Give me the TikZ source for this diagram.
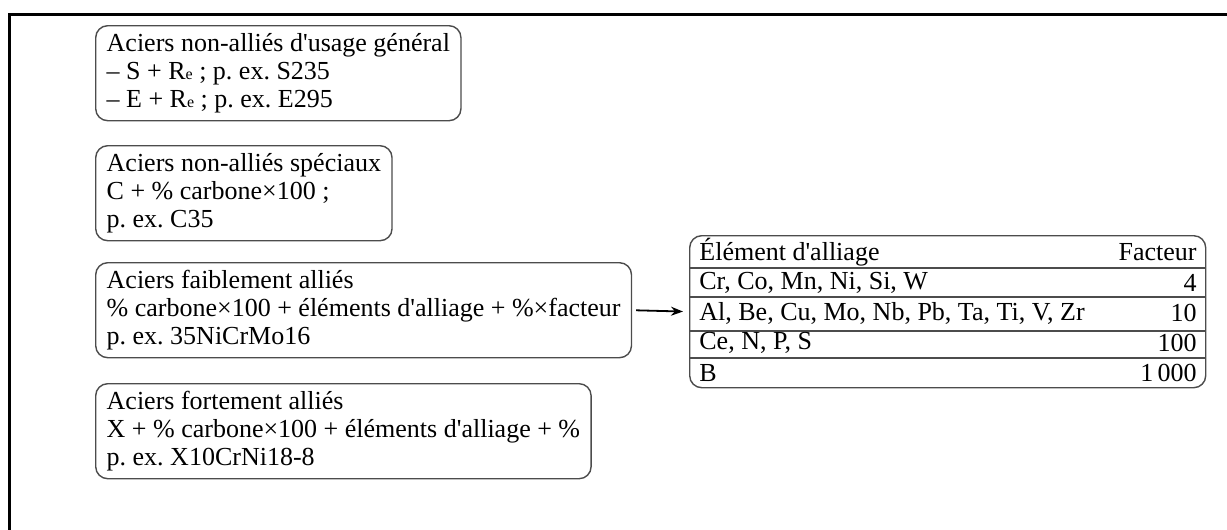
\documentclass[tikz,border=0pt]{standalone}
\usepackage{fontspec}
\setmainfont{Liberation Serif}
\usetikzlibrary{arrows.meta}

\newcommand{\apo}{\textquotesingle}
\newcommand{\Rlim}{R{\fontsize{8}{8}\selectfont e}}

\begin{document}
\frenchspacing
\begin{tikzpicture}[x=0.5pt, y=-0.5pt, font=\fontsize{13}{14.2}\selectfont,
    kasten/.style={draw=black!70, line width=0.7pt, rounded corners=6pt, align=left,
        anchor=north west, inner xsep=5.5pt, inner ysep=1pt, minimum height=47.5pt},
    zelle/.style={inner sep=0pt}]
\useasboundingbox (0,0) rectangle (1227,530);

% --- Rahmen (nur links und oben sichtbar) ---
\draw[line width=1.5pt] (9,530) -- (9,14) -- (1227,14);

% --- Stahlgruppen ---
\node[kasten] (allg) at (95,25) {Aciers non-alliés d\apo usage général\\
    – S + \Rlim\ ; p. ex. S235\\
    – E + \Rlim\ ; p. ex. E295};
\node[kasten] (spez) at (95,145) {Aciers non-alliés spéciaux\\
    C + \% carbone×100 ;\\
    p. ex. C35};
\node[kasten] (niedrig) at (95,262) {Aciers faiblement alliés\\
    \% carbone×100 + éléments d\apo alliage + \%×facteur\\
    p. ex. 35NiCrMo16};
\node[kasten] (hoch) at (95,383) {Aciers fortement alliés\\
    X + \% carbone×100 + éléments d\apo alliage + \%\\
    p. ex. X10CrNi18-8};

% --- Tabelle der Faktoren ---
\node[draw=black!70, line width=0.7pt, rounded corners=6pt, anchor=north west,
    minimum width=258pt, minimum height=76pt, inner sep=0pt] (tbl) at (689,235) {};
\foreach \y in {268,297,331,358}
    \draw[black!70, line width=0.7pt] (tbl.west |- 0,\y) -- (tbl.east |- 0,\y);

\node[zelle, anchor=west] (kopfL) at (699,252) {Élément d\apo alliage};
\node[zelle, anchor=east] (kopfR) at (1197,252) {Facteur};
\foreach \y/\elem/\fak [count=\i] in {283/{Cr, Co, Mn, Ni, Si, W}/4,
        313/{Al, Be, Cu, Mo, Nb, Pb, Ta, Ti, V, Zr}/10,
        343/{Ce, N, P, S}/100,
        373/B/1\,000}
{
    \node[zelle, anchor=west] (elem\i) at (699,\y) {\elem};
    \node[zelle, anchor=east] (fak\i) at (1197,\y) {\fak};
}

% Pfeil zur Tabelle
\draw[-{Stealth[length=6pt]}, line width=0.9pt, shorten <=2pt, shorten >=3pt] (niedrig.east) -- (tbl.west);
\end{tikzpicture}
\end{document}
